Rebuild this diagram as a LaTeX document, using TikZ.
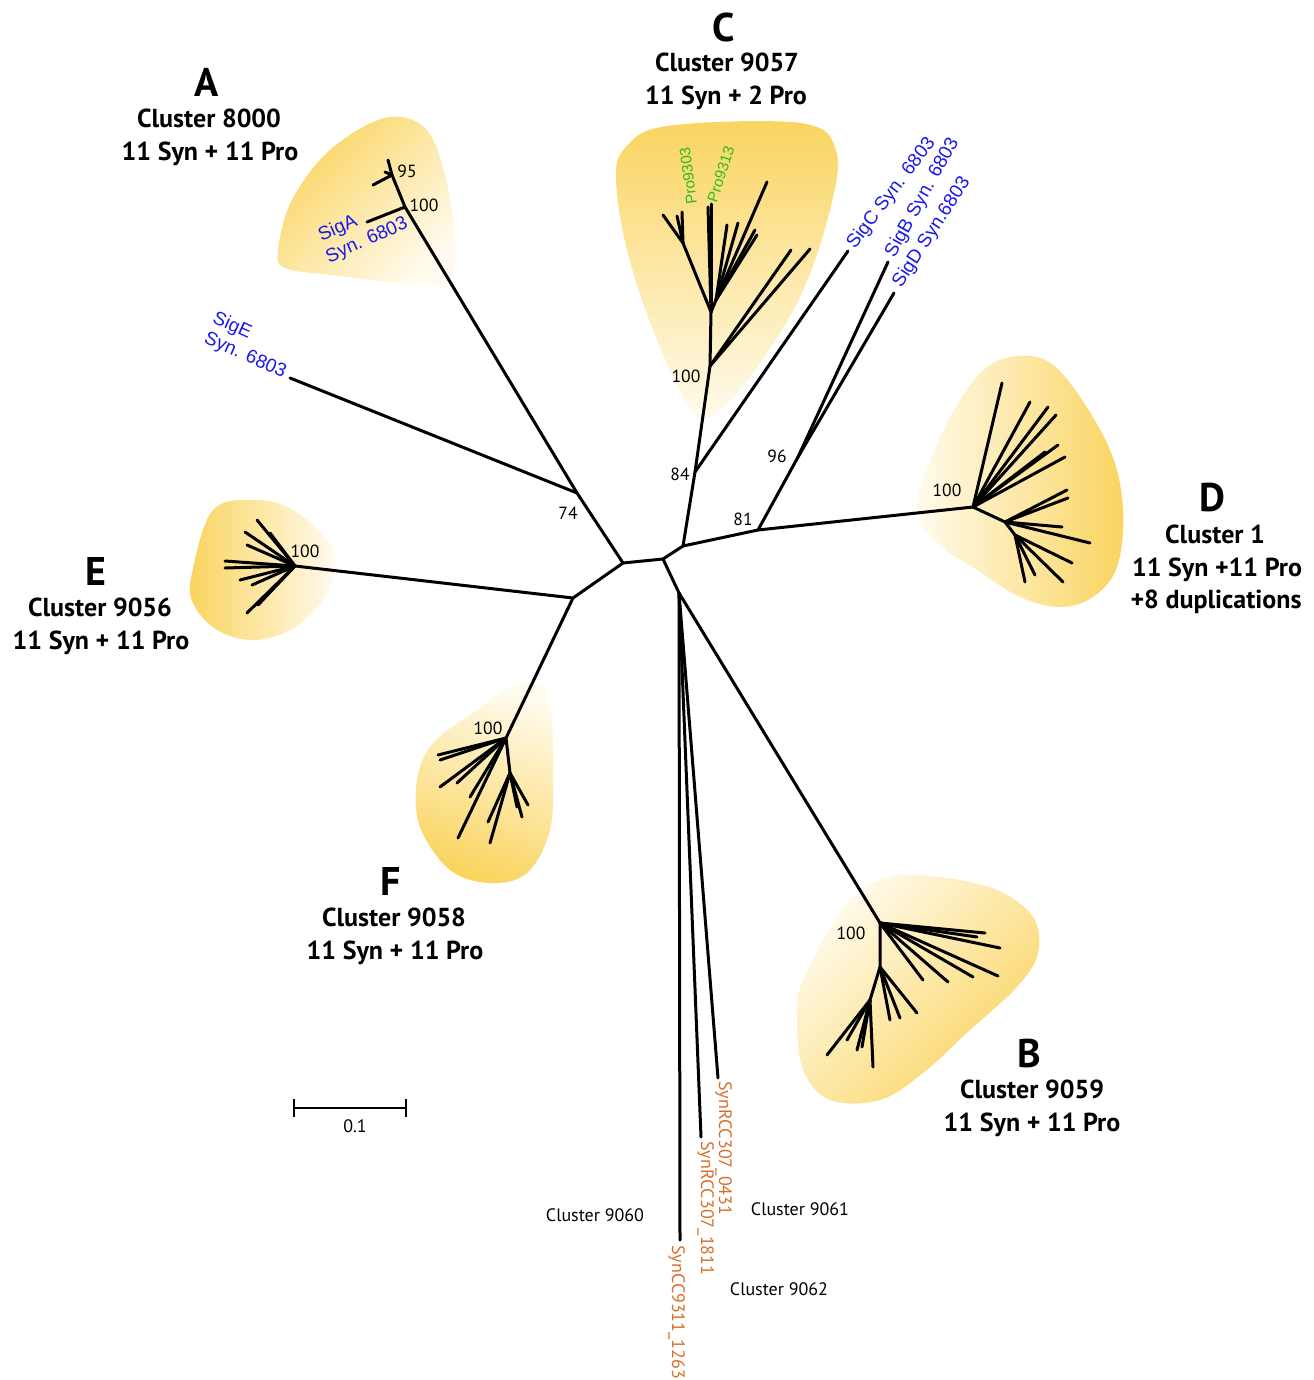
\documentclass[tikz,border=0pt]{standalone}
\usepackage{fontspec}
\setmainfont{PT Sans}
\newfontfamily\arialfont{Liberation Sans}
\definecolor{hullyellow}{RGB}{250,212,95}
\definecolor{hullwhite}{RGB}{255,251,238}
\definecolor{sigblue}{RGB}{25,25,235}
\definecolor{progreen}{RGB}{40,190,25}
\definecolor{synorange}{RGB}{215,110,40}

\begin{document}
\begin{tikzpicture}[x=0.5pt,y=-0.5pt,
  branch/.style={line width=1.5pt, line cap=round, line join=round},
  hull/.style={top color=hullyellow, bottom color=hullwhite, shading angle=#1},
  boot/.style={font=\fontsize{8.8}{10}\selectfont, inner sep=0pt, anchor=base},
  bigletter/.style={font=\bfseries\fontsize{20}{24}\selectfont, inner sep=0pt, anchor=base},
  title/.style={font=\bfseries\fontsize{13}{15}\selectfont, inner sep=0pt, anchor=base},
  sig/.style={font=\arialfont\fontsize{9.5}{11}\selectfont, text=sigblue, inner sep=0pt},
  pro/.style={font=\arialfont\fontsize{7.6}{8}\selectfont, text=progreen, inner sep=0pt, anchor=mid west},
  syn/.style={font=\fontsize{9}{10}\selectfont, text=synorange, inner sep=0pt, anchor=mid west, rotate=-90},
  minor/.style={font=\fontsize{9}{10}\selectfont, inner sep=0pt, anchor=base}]
\useasboundingbox (0,0) rectangle (1313,1380);

% shaded hulls round the clusters
\shade[hull=45] plot[smooth cycle, tension=0.6] coordinates {(278,250) (292,200) (330,150) (385,118) (425,128) (445,175) (455,240) (450,280) (420,285) (330,275) (285,268)};
\shade[hull=0] plot[smooth cycle, tension=0.6] coordinates {(616,180) (625,148) (667,126) (800,123) (836,150) (830,210) (800,297) (750,377) (710,417) (687,403) (653,330) (627,250)};
\shade[hull=-90] plot[smooth cycle, tension=0.6] coordinates {(917,510) (930,460) (960,400) (993,363) (1037,357) (1070,383) (1110,450) (1123,510) (1117,567) (1093,597) (1060,607) (1020,597) (977,570) (937,543)};
\shade[hull=90] plot[smooth cycle, tension=0.6] coordinates {(192,573) (213,510) (257,500) (293,510) (327,540) (335,563) (323,600) (290,630) (253,640) (217,630) (193,603)};
\shade[hull=160] plot[smooth cycle, tension=0.6] coordinates {(533,683) (550,703) (553,770) (550,830) (527,873) (490,883) (450,870) (420,827) (417,780) (433,743) (477,710) (510,687)};
\shade[hull=-135] plot[smooth cycle, tension=0.6] coordinates {(803,980) (847,903) (890,877) (940,877) (997,890) (1033,917) (1038,953) (1017,987) (970,1030) (923,1073) (880,1100) (830,1100) (803,1070) (797,1020)};

% backbone
\coordinate (c) at (623,563);
\coordinate (m) at (663,559);
\coordinate (r) at (683,546);
\coordinate (n74) at (577,493);
\coordinate (nA) at (405,207);
\coordinate (n95) at (392,175);
\coordinate (tipSigA) at (367,222);
\coordinate (tipSigE) at (290,378);
\coordinate (nEF) at (573,598);
\coordinate (nE) at (295,566);
\coordinate (nF) at (506,738);
\coordinate (nDown) at (679,593);
\coordinate (nB) at (880,923);
\coordinate (tip0431) at (718,1078);
\coordinate (tip1811) at (701,1137);
\coordinate (tip1263) at (680,1240);
\coordinate (n84) at (695,472);
\coordinate (nC) at (710,366);
\coordinate (tipSigC) at (848,251);
\coordinate (n81) at (758,530);
\coordinate (n96) at (798,457);
\coordinate (tipSigB) at (888,262);
\coordinate (tipSigD) at (894,293);
\coordinate (nD) at (973,507);

\draw[branch] (c) -- (m) -- (r);
\draw[branch] (c) -- (n74) -- (nA) -- (n95);
\draw[branch] (nA) -- (tipSigA);
\draw[branch] (n74) -- (tipSigE);
\draw[branch] (c) -- (nEF) -- (nE);
\draw[branch] (nEF) -- (nF);
\draw[branch] (m) -- (nDown) -- (nB);
\draw[branch] (nDown) -- (tip0431);
\draw[branch] (nDown) -- (tip1811);
\draw[branch] (nDown) -- (tip1263);
\draw[branch] (r) -- (n84) -- (nC);
\draw[branch] (n84) -- (tipSigC);
\draw[branch] (r) -- (n81) -- (nD);
\draw[branch] (n81) -- (n96) -- (tipSigB);
\draw[branch] (n96) -- (tipSigD);

% cluster A
\foreach \tip in {(388,160),(385,172),(373,185)}
  \draw[branch] (n95) -- \tip;

% cluster C
\coordinate (nC1) at (711,312);
\coordinate (nC2) at (683,243);
\coordinate (nC3) at (716,300);
\draw[branch] (nC) -- (nC1) -- (nC2);
\draw[branch] (nC1) -- (nC3);
\foreach \tip in {(791,250),(810,249)}
  \draw[branch] (nC) -- \tip;
\foreach \tip in {(708,207),(711,204)}
  \draw[branch] (nC1) -- \tip;
\foreach \tip in {(663,215),(677,216),(682,212)}
  \draw[branch] (nC2) -- \tip;
\foreach \tip in {(767,182),(727,225),(738,223),(757,235),(755,230)}
  \draw[branch] (nC3) -- \tip;

% cluster D
\coordinate (nD2) at (1005,522);
\coordinate (nD3) at (1015,535);
\draw[branch] (nD) -- (nD2) -- (nD3);
\foreach \tip in {(1002,383),(1030,402),(1048,407),(1056,415),(1058,445),(1045,452),(1065,457)}
  \draw[branch] (nD) -- \tip;
\foreach \tip in {(1067,490),(1068,498),(1090,543),(1062,527)}
  \draw[branch] (nD2) -- \tip;
\foreach \tip in {(1063,582),(1072,563),(1025,582),(1035,575)}
  \draw[branch] (nD3) -- \tip;

% cluster E
\foreach \tip in {(257,520),(245,532),(247,545),(270,533),(225,561),(225,568),(240,580),(252,585),(247,613),(258,605)}
  \draw[branch] (nE) -- \tip;

% cluster F
\coordinate (nF1) at (510,773);
\draw[branch] (nF) -- (nF1);
\foreach \tip in {(438,755),(440,760),(440,787),(457,783),(470,797),(458,838)}
  \draw[branch] (nF) -- \tip;
\foreach \tip in {(490,843),(488,822),(517,807),(528,805),(522,817)}
  \draw[branch] (nF1) -- \tip;

% cluster B
\coordinate (nB1) at (880,967);
\coordinate (nB2) at (870,1000);
\draw[branch] (nB) -- (nB1) -- (nB2);
\foreach \tip in {(985,933),(977,937),(1000,948),(998,976),(973,977),(948,982),(923,980)}
  \draw[branch] (nB) -- \tip;
\foreach \tip in {(890,1020),(900,1018),(917,1013)}
  \draw[branch] (nB1) -- \tip;
\foreach \tip in {(827,1055),(873,1067),(857,1050),(862,1047),(847,1040)}
  \draw[branch] (nB2) -- \tip;

% bootstrap values
\node[boot] (b95) at (407,178) {95};
\node[boot] (bA) at (424,212) {100};
\node[boot] (bC) at (686,382) {100};
\node[boot] (b84) at (680,480) {84};
\node[boot] (b96) at (777,462) {96};
\node[boot] (b81) at (743,525) {81};
\node[boot] (b74) at (568,519) {74};
\node[boot] (bD) at (947,496) {100};
\node[boot] (bE) at (305,557) {100};
\node[boot] (bF) at (488,734) {100};
\node[boot] (bB) at (851,939) {100};

% leaf labels
\node[sig, rotate=24] (sigA1) at (338,229) {SigA};
\node[sig, rotate=24] (sigA2) at (367,241) {Syn. 6803};
\node[sig, rotate=-24] (sigE1) at (232,326) {SigE};
\node[sig, rotate=-24] (sigE2) at (245,356) {Syn. 6803};
\node[sig, anchor=mid west, rotate=53] (sigC) at (851,247) {SigC Syn. 6803};
\node[sig, anchor=mid west, rotate=61] (sigB) at (890,256) {SigB Syn. 6803};
\node[sig, anchor=mid west, rotate=57] (sigD) at (897,286) {SigD Syn.6803};
\node[pro, rotate=97] (pro03) at (692,205) {Pro9303};
\node[pro, rotate=72] (pro13) at (712,202) {Pro9313};
\node[syn] (syn0431) at (724,1081) {SynRCC307\_0431};
\node[syn] (syn1811) at (706,1141) {SynRCC307\_1811};
\node[syn] (syn1263) at (677,1245) {SynCC9311\_1263};
\node[minor] (cl9060) at (595,1221) {Cluster 9060};
\node[minor] (cl9061) at (800,1215) {Cluster 9061};
\node[minor] (cl9062) at (779,1295) {Cluster 9062};

% cluster titles
\node[bigletter] (letA) at (207,97) {A};
\node[title] (clA) at (209,128) {Cluster 8000};
\node[title] (cmA) at (210,161) {11 Syn + 11 Pro};
\node[bigletter] (letC) at (724,42) {C};
\node[title] (clC) at (727,72) {Cluster 9057};
\node[title] (cmC) at (726,105) {11 Syn + 2 Pro};
\node[bigletter] (letD) at (1212,511) {D};
\node[title] (clD) at (1215,543) {Cluster 1};
\node[title] (cmD) at (1217,576) {11 Syn +11 Pro};
\node[title] (dupD) at (1216,608) {+8 duplications};
\node[bigletter] (letE) at (96,585) {E};
\node[title] (clE) at (100,616) {Cluster 9056};
\node[title] (cmE) at (101,649) {11 Syn + 11 Pro};
\node[bigletter] (letF) at (391,895) {F};
\node[title] (clF) at (394,926) {Cluster 9058};
\node[title] (cmF) at (395,959) {11 Syn + 11 Pro};
\node[bigletter] (letB) at (1029,1067) {B};
\node[title] (clB) at (1032,1098) {Cluster 9059};
\node[title] (cmB) at (1032,1131) {11 Syn + 11 Pro};

% scale bar
\coordinate (sbL) at (294,1108);
\coordinate (sbR) at (406,1108);
\draw[line width=1pt] (sbL) -- (sbR);
\draw[line width=1pt] ([yshift=-4.5pt]sbL) -- ([yshift=4.5pt]sbL);
\draw[line width=1pt] ([yshift=-4.5pt]sbR) -- ([yshift=4.5pt]sbR);
\node[minor] (sbLabel) at (355,1132) {0.1};
\end{tikzpicture}
\end{document}
